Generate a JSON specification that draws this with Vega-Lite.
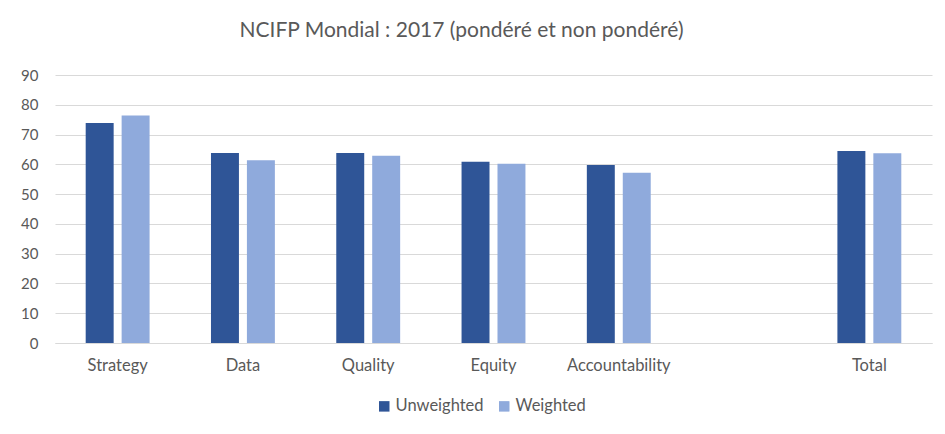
{
  "$schema": "https://vega.github.io/schema/vega-lite/v6.json",
  "width": 877,
  "height": 268,
  "autosize": "none",
  "padding": {"left": 55, "top": 75, "right": 13, "bottom": 91},
  "background": "white",
  "title": {
    "text": "NCIFP Mondial : 2017 (pondéré et non pondéré)",
    "font": "Lato",
    "fontSize": 21,
    "fontWeight": "normal",
    "color": "#595959",
    "anchor": "middle",
    "offset": 27,
    "dx": -32
  },
  "data": {
    "values": [
      {"category": "Strategy", "series": "Unweighted", "value": 73.9},
      {"category": "Strategy", "series": "Weighted", "value": 76.4},
      {"category": "Data", "series": "Unweighted", "value": 63.8},
      {"category": "Data", "series": "Weighted", "value": 61.4},
      {"category": "Quality", "series": "Unweighted", "value": 63.8},
      {"category": "Quality", "series": "Weighted", "value": 62.9},
      {"category": "Equity", "series": "Unweighted", "value": 60.9},
      {"category": "Equity", "series": "Weighted", "value": 60.2},
      {"category": "Accountability", "series": "Unweighted", "value": 59.8},
      {"category": "Accountability", "series": "Weighted", "value": 57.2},
      {"category": "Total", "series": "Unweighted", "value": 64.5},
      {"category": "Total", "series": "Weighted", "value": 63.7}
    ]
  },
  "mark": {"type": "bar"},
  "encoding": {
    "x": {
      "field": "category",
      "type": "nominal",
      "title": null,
      "scale": {
        "domain": ["Strategy", "Data", "Quality", "Equity", "Accountability", " ", "Total"],
        "paddingInner": 0.49,
        "paddingOuter": 0.245
      },
      "axis": {
        "labelAngle": 0,
        "labelFont": "Lato",
        "labelFontSize": 16.5,
        "labelColor": "#595959",
        "labelPadding": 14,
        "ticks": false,
        "domainColor": "#d9d9d9",
        "domainWidth": 1,
        "grid": false
      }
    },
    "xOffset": {
      "field": "series",
      "type": "nominal",
      "scale": {"paddingInner": 0.222, "paddingOuter": 0}
    },
    "y": {
      "field": "value",
      "type": "quantitative",
      "title": null,
      "scale": {"domain": [0, 90], "nice": false},
      "axis": {
        "values": [0, 10, 20, 30, 40, 50, 60, 70, 80, 90],
        "labelFont": "Lato",
        "labelFontSize": 15,
        "labelColor": "#595959",
        "labelPadding": 17,
        "ticks": false,
        "domain": false,
        "gridColor": "#d9d9d9",
        "gridWidth": 1
      }
    },
    "color": {
      "field": "series",
      "type": "nominal",
      "title": null,
      "scale": {"domain": ["Unweighted", "Weighted"], "range": ["#2F5597", "#8FAADC"]},
      "legend": {
        "orient": "none",
        "direction": "horizontal",
        "legendX": 321,
        "legendY": 323,
        "symbolType": "square",
        "symbolSize": 110,
        "symbolStrokeWidth": 0,
        "labelFont": "Lato",
        "labelFontSize": 16.5,
        "labelColor": "#595959",
        "labelOffset": 3,
        "columnPadding": 12
      }
    }
  },
  "config": {
    "view": {"stroke": null}
  }
}
